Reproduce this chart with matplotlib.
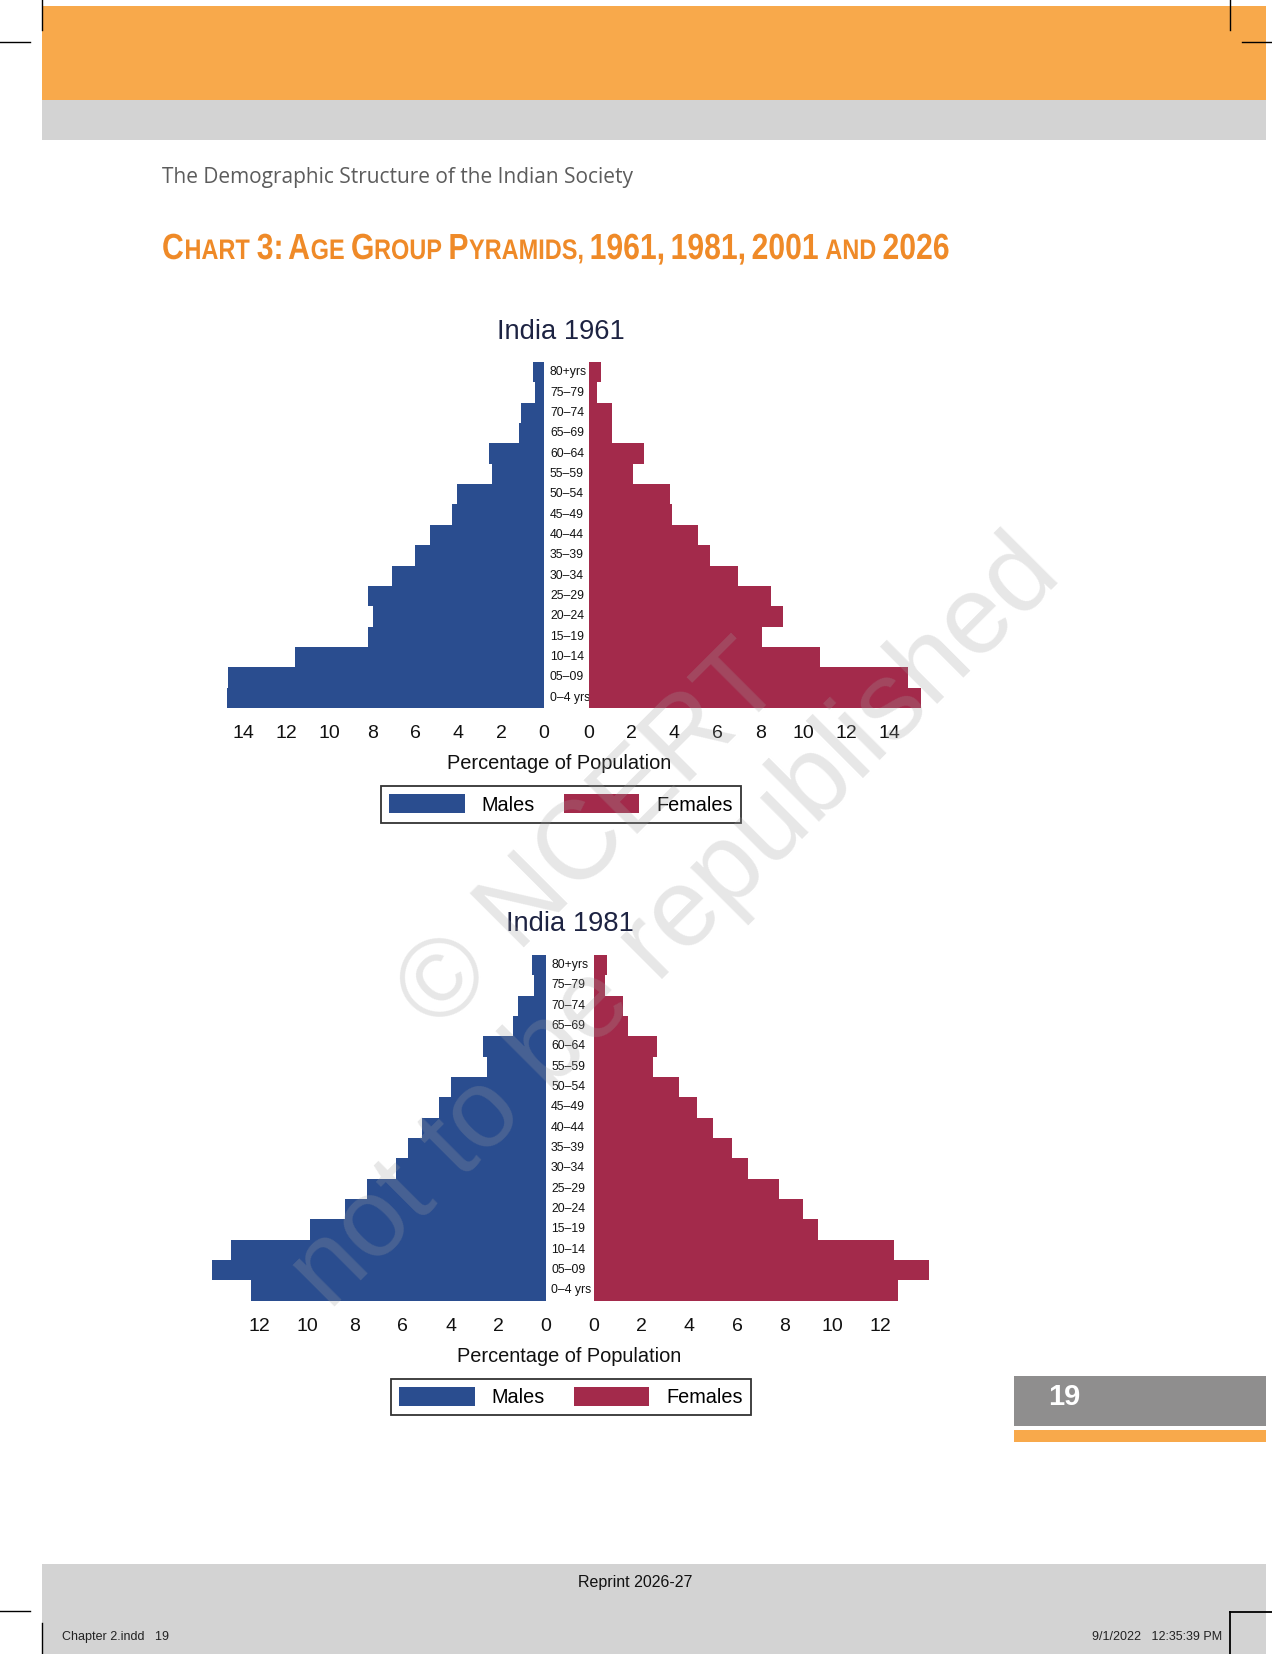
import numpy as np
import matplotlib
matplotlib.use("Agg")
import matplotlib.pyplot as plt
from matplotlib import font_manager
from matplotlib.patches import Rectangle, Patch, PathPatch
from matplotlib.lines import Line2D
from matplotlib.textpath import TextPath
import matplotlib.transforms as mtransforms

# age groups, bottom to top
age_groups = ['0–4 yrs', '05–09', '10–14', '15–19', '20–24', '25–29', '30–34', '35–39',
              '40–44', '45–49', '50–54', '55–59', '60–64', '65–69', '70–74', '75–79', '80+yrs']

# India 1961, % of population
males_1961 = [14.75, 14.7, 11.6, 8.2, 7.95, 8.2, 7.1, 6.0, 5.3, 4.3, 4.05, 2.4, 2.55, 1.15, 1.05, 0.42, 0.52]
females_1961 = [15.5, 14.9, 10.8, 8.1, 9.05, 8.5, 6.97, 5.66, 5.1, 3.9, 3.78, 2.08, 2.58, 1.1, 1.1, 0.38, 0.56]

# India 1981, % of population
males_1981 = [12.35, 14.0, 13.2, 9.9, 8.42, 7.5, 6.3, 5.78, 5.2, 4.5, 3.96, 2.47, 2.65, 1.38, 1.16, 0.52, 0.6]
females_1981 = [12.75, 14.05, 12.55, 9.37, 8.75, 7.75, 6.47, 5.8, 4.98, 4.3, 3.57, 2.48, 2.64, 1.44, 1.2, 0.48, 0.56]

ticks_1961 = [0, 2, 4, 6, 8, 10, 12, 14]
ticks_1981 = [0, 2, 4, 6, 8, 10, 12]

BLUE = '#2a4d8f'
RED = '#a32a4b'
ORANGE = '#f8a94b'
W, H = 1272, 1654

plt.rcParams['font.family'] = ['Liberation Sans', 'DejaVu Sans']

fig = plt.figure(figsize=(W / 100, H / 100), dpi=100)
fig.patch.set_facecolor('white')
renderer = fig.canvas.get_renderer()


def fx(x):
    return x / W


def fy(y):
    return 1 - y / H


def box(x0, y0, x1, y1, color):
    fig.add_artist(Rectangle((fx(x0), fy(y1)), (x1 - x0) / W, (y1 - y0) / H,
                             transform=fig.transFigure, color=color, lw=0, zorder=0))


def line(x0, y0, x1, y1, lw=1.0):
    fig.add_artist(Line2D([fx(x0), fx(x1)], [fy(y0), fy(y1)], transform=fig.transFigure,
                          color='black', lw=lw))


# page furniture
box(42, 6, 1266, 100, ORANGE)
box(42, 100, 1266, 140, '#d3d3d3')
box(42, 1564, 1266, 1654, '#d3d3d3')
box(1014, 1376, 1266, 1426, '#8f8e8e')
box(1014, 1430, 1266, 1442, ORANGE)

line(42, 0, 42, 30)
line(0, 42, 30, 42)
line(1230, 0, 1230, 30)
line(1242, 42, 1272, 42)
line(0, 1611, 30, 1611)
line(42, 1623, 42, 1654)
line(1230, 1612, 1230, 1654, 1.3)
line(1230, 1612, 1272, 1612, 1.3)

fig.text(fx(1048), fy(1397), '19', fontsize=21, color='white', fontweight='bold',
         va='center', ha='left')
fig.text(fx(635), fy(1583), 'Reprint 2026-27', fontsize=11.5, color='#111', ha='center', va='center')
fig.text(fx(62), fy(1637), 'Chapter 2.indd   19', fontsize=9, color='#222', ha='left', va='center')
fig.text(fx(1222), fy(1637), '9/1/2022   12:35:39 PM', fontsize=9, color='#222', ha='right', va='center')


def fit_text(x, y, s, width, **kw):
    t = fig.text(fx(x), fy(y), s, fontsize=10, **kw)
    w = t.get_window_extent(renderer=renderer).width
    t.set_fontsize(10 * width / w)
    return t


fit_text(162, 183, 'The Demographic Structure of the Indian Society', 471,
         color='#5c5c5c', family='Open Sans', va='baseline', ha='left')

# small-caps chart title, drawn as condensed outlines
words = [[('C', 1), ('HART', 0.78)], [('3:', 1)], [('A', 1), ('GE', 0.78)], [('G', 1), ('ROUP', 0.78)],
         [('P', 1), ('YRAMIDS,', 0.78)], [('1961,', 1)], [('1981,', 1)], [('2001', 1)],
         [('AND', 0.78)], [('2026', 1)]]
bold = font_manager.FontProperties(family='Liberation Sans', weight='bold')
em = 26 / 0.716
gap = 0.2 * em
pieces = []
x = 0
for word in words:
    for s, k in word:
        tp = TextPath((0, 0), s, size=em * k, prop=bold)
        pieces.append((tp, x))
        x += tp.get_extents().x1 + 0.05 * em * k
    x += gap
natural = x - gap
sx = 788 / natural
for tp, xo in pieces:
    tr = mtransforms.Affine2D().scale(sx, 1).translate(162 + xo * sx, H - 259)
    fig.add_artist(PathPatch(tp, transform=tr, facecolor='#ef8a28', lw=0))


def pyramid(males, females, ticks, title, x0m, x0f, ppu, lim, top, bottom,
            title_xy, label_x, xlabel_xy, legend_xy):
    ypos = np.arange(len(age_groups))
    axm = fig.add_axes([fx(x0m - lim * ppu), fy(bottom), lim * ppu / W, (bottom - top) / H])
    axf = fig.add_axes([fx(x0f), fy(bottom), lim * ppu / W, (bottom - top) / H])
    axm.barh(ypos, males, height=1.0, color=BLUE, lw=0)
    axf.barh(ypos, females, height=1.0, color=RED, lw=0)
    axm.set_xlim(lim, 0)
    axf.set_xlim(0, lim)
    for ax in (axm, axf):
        ax.set_ylim(-0.5, len(age_groups) - 0.5)
        ax.set_facecolor('none')
        for sp in ax.spines.values():
            sp.set_visible(False)
        ax.set_yticks([])
        ax.set_xticks(ticks)
        ax.set_xticklabels([str(t) for t in ticks])
        ax.tick_params(axis='x', length=0, pad=12.5, labelsize=14, labelcolor='#111')
    trans = mtransforms.blended_transform_factory(fig.transFigure, axm.transData)
    for i, lab in enumerate(age_groups):
        axm.text(fx(label_x), i, lab, transform=trans, fontsize=8.8, color='#111',
                 va='center', ha='left', clip_on=False, zorder=5)
    fig.text(fx(title_xy[0]), fy(title_xy[1]), title, fontsize=19.7, color='#1d2342',
             ha='center', va='center')
    fig.text(fx(xlabel_xy[0]), fy(xlabel_xy[1]), 'Percentage of Population', fontsize=14.4,
             color='#111', ha='center', va='center')
    handles = [Patch(facecolor=BLUE, label='Males'), Patch(facecolor=RED, label='Females')]
    fig.legend(handles=handles, loc='center', bbox_to_anchor=(fx(legend_xy[0]), fy(legend_xy[1])),
               ncol=2, fontsize=14.3, frameon=True, fancybox=False, edgecolor='black',
               handlelength=3.8, handleheight=1.1, handletextpad=0.85, columnspacing=1.45,
               borderpad=0.4).get_frame().set_linewidth(1.3)


pyramid(males_1961, females_1961, ticks_1961, 'India 1961', 544, 588.5, 21.47, 16, 362, 708,
        (561, 332), 550, (559, 763), (561, 804.5))
pyramid(males_1981, females_1981, ticks_1981, 'India 1981', 546, 594, 23.87, 15, 955, 1300.5,
        (570, 924), 551, (569, 1356), (571, 1397))

# watermark
for s, cx, cy in [('© NCERT', 592, 838), ('not to be republished', 676, 924)]:
    fig.text(fx(cx), fy(cy), s, fontsize=80, color='#a0a0a0', alpha=0.25, rotation=45,
             rotation_mode='anchor', ha='center', va='center', zorder=10)

fig.savefig('out.png', dpi=100)
